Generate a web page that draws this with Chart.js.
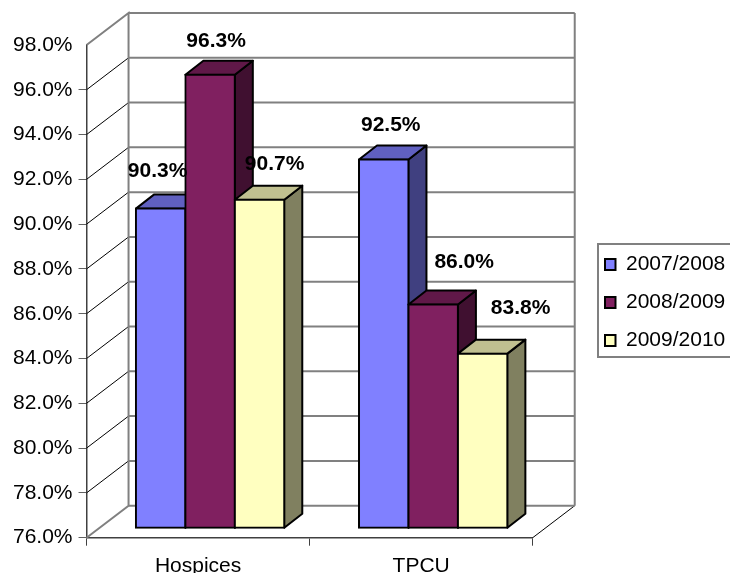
<!DOCTYPE html>
<html>
<head>
<meta charset="utf-8">
<script src="https://cdn.jsdelivr.net/npm/chart.js@4"></script>
<style>
  html, body { margin: 0; padding: 0; background: #fff; overflow: hidden; }
  #wrap { width: 730px; height: 573px; }
</style>
</head>
<body>
<div id="wrap"><canvas id="myChart" width="730" height="573"></canvas></div>
<script>
const categories = ['Hospices', 'TPCU']
const seriesNames = ['2007/2008', '2008/2009', '2009/2010']
const values0708 = [90.3, 92.5]
const values0809 = [96.3, 86.0]
const values0910 = [90.7, 83.8]

const yMin = 76
const yMax = 98
const yStep = 2

const font = 'Arial, "Liberation Sans", sans-serif'
const fontSize = 21
const fronts = ['#8080ff', '#802060', '#ffffc0']
const tops = ['#6060c0', '#601848', '#c0c090']
const sides = ['#404080', '#401030', '#808060']

// depth of the walls and of the bars, in px
const wallX = 42, wallY = -32
const barShiftX = 12, barShiftY = -10
const depthX = 18, depthY = -14

// where each value label sits relative to the middle of its bar top, one row per series
const labelShift = [
  [[-3, -37], [7, -34]],
  [[6, -34], [31, -42]],
  [[15, -35], [38, -45]]
]

function wall(ctx, chart) {
  const y = chart.scales.y
  const a = chart.chartArea
  ctx.save()
  // side wall rungs
  ctx.strokeStyle = '#000'
  ctx.lineWidth = 1
  y.ticks.forEach((t, i) => {
    if (i == 0 || i == y.ticks.length - 1) return
    const py = y.getPixelForTick(i)
    ctx.beginPath()
    ctx.moveTo(a.left, py)
    ctx.lineTo(a.left + wallX, py + wallY)
    ctx.stroke()
  })
  ctx.beginPath()
  ctx.moveTo(a.right, a.bottom)
  ctx.lineTo(a.right + wallX, a.bottom + wallY)
  ctx.stroke()

  // back wall
  ctx.strokeStyle = '#808080'
  ctx.lineWidth = 2
  y.ticks.forEach((t, i) => {
    const py = y.getPixelForTick(i) + wallY
    ctx.beginPath()
    ctx.moveTo(a.left + wallX, py)
    ctx.lineTo(a.right + wallX, py)
    ctx.stroke()
  })
  ctx.beginPath()
  ctx.moveTo(a.left, a.top)
  ctx.lineTo(a.left + wallX, a.top + wallY)
  ctx.lineTo(a.left + wallX, a.bottom + wallY)
  ctx.lineTo(a.left, a.bottom)
  ctx.moveTo(a.right + wallX, a.top + wallY)
  ctx.lineTo(a.right + wallX, a.bottom + wallY)
  ctx.stroke()
  ctx.restore()
}

function quad(ctx, pts, fill) {
  ctx.beginPath()
  ctx.moveTo(pts[0][0], pts[0][1])
  pts.slice(1).forEach(p => ctx.lineTo(p[0], p[1]))
  ctx.closePath()
  ctx.fillStyle = fill
  ctx.fill()
  ctx.stroke()
}

const chart3d = {
  id: 'chart3d',
  afterLayout(chart) {
    // legend floats beside the plot instead of filling the right hand column
    const l = chart.legend
    const w = l.width, h = l.height
    l.left = 588; l.top = 237
    l.right = l.left + w; l.bottom = l.top + h
  },
  // datasets are painted here left to right, each bar side and top first, so the
  // next bar covers the one before it
  beforeDatasetsDraw(chart) {
    const ctx = chart.ctx
    wall(ctx, chart)

    chart.data.datasets.forEach((ds, i) => {
      const meta = chart.getDatasetMeta(i)
      ctx.save()
      ctx.translate(barShiftX, barShiftY)
      ctx.strokeStyle = '#000'
      ctx.lineWidth = 2
      ctx.lineJoin = 'round'
      meta.data.forEach(bar => {
        const p = bar.getProps(['x', 'y', 'base', 'width'], true)
        const l = p.x - p.width / 2, r = p.x + p.width / 2
        quad(ctx, [[r, p.y], [r + depthX, p.y + depthY], [r + depthX, p.base + depthY], [r, p.base]], sides[i])
        quad(ctx, [[l, p.y], [l + depthX, p.y + depthY], [r + depthX, p.y + depthY], [r, p.y]], tops[i])
      })
      meta.controller.draw()
      ctx.restore()
    })

    // value labels
    ctx.save()
    ctx.font = 'bold ' + fontSize + 'px ' + font
    ctx.fillStyle = '#000'
    ctx.textAlign = 'center'
    ctx.textBaseline = 'middle'
    chart.data.datasets.forEach((ds, i) => {
      chart.getDatasetMeta(i).data.forEach((bar, j) => {
        ctx.fillText(ds.data[j].toFixed(1) + '%',
          bar.x + barShiftX + labelShift[i][j][0], bar.y + barShiftY + labelShift[i][j][1])
      })
    })
    ctx.restore()
    return false
  },
  afterDraw(chart) {
    // legend frame, open past the right edge of the canvas
    const ctx = chart.ctx
    ctx.save()
    ctx.strokeStyle = '#808080'
    ctx.lineWidth = 2
    ctx.strokeRect(598, 244, 200, 113)
    ctx.restore()
  }
}

const ctx = document.getElementById('myChart')
new Chart(ctx, {
  type: 'bar',
  data: {
    labels: categories,
    datasets: [
      { label: seriesNames[0], data: values0708, backgroundColor: fronts[0] },
      { label: seriesNames[1], data: values0809, backgroundColor: fronts[1] },
      { label: seriesNames[2], data: values0910, backgroundColor: fronts[2] }
    ].map(d => ({
      ...d,
      borderColor: '#000',
      borderWidth: 2,
      borderSkipped: false,
      inflateAmount: 1,
      base: yMin,
      yAxisID: 'yBars',
      barPercentage: 1,
      categoryPercentage: 0.665
    }))
  },
  options: {
    responsive: false,
    animation: false,
    layout: { padding: { left: 7, top: 45, right: 50, bottom: 0 } },
    plugins: {
      tooltip: { enabled: false },
      legend: {
        position: 'right',
        align: 'start',
        labels: {
          color: '#000',
          font: { family: font, size: fontSize },
          boxWidth: 10.5,
          boxHeight: 11,
          padding: 17
        }
      }
    },
    scales: {
      x: {
        afterFit(scale) { scale.height = 35.3 },
        grid: { offset: true, drawOnChartArea: false, color: '#404040', tickLength: 8 },
        border: { color: '#404040', width: 1.5 },
        ticks: { color: '#000', font: { family: font, size: fontSize }, padding: 8 }
      },
      y: {
        min: yMin, max: yMax,
        grid: {
          drawOnChartArea: false,
          tickLength: 8,
          // top of the wall carries no tick mark
          color: c => c.tick && c.tick.value == yMax ? 'rgba(0,0,0,0)' : '#606060'
        },
        border: { color: '#404040', width: 1.5 },
        ticks: {
          stepSize: yStep,
          color: '#000',
          font: { family: font, size: fontSize },
          padding: 6,
          callback: v => v.toFixed(1) + '%'
        }
      },
      // same base as y, very slightly compressed the way the depth foreshortens the bars
      yBars: { display: false, min: yMin, max: 98.08 }
    }
  },
  plugins: [chart3d]
})
</script>
</body>
</html>
